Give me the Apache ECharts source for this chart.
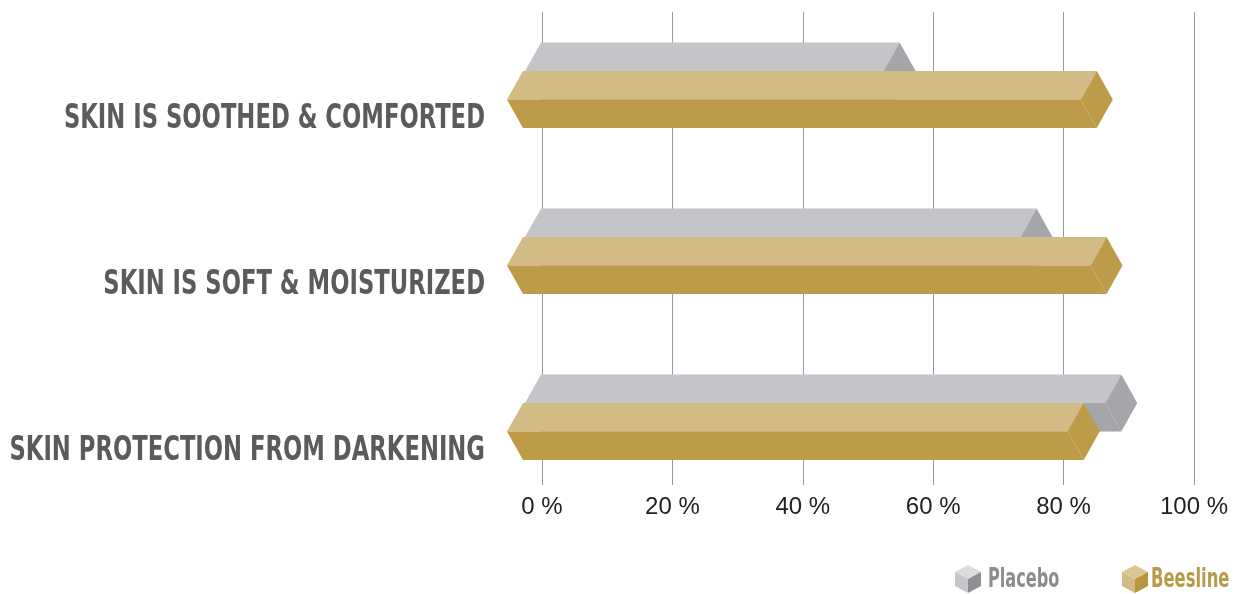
<!DOCTYPE html>
<html>
<head>
<meta charset="utf-8">
<script src="https://cdn.jsdelivr.net/npm/echarts@6/dist/echarts.min.js"></script>
<style>
  html, body { margin: 0; padding: 0; background: #fff; }
  #chart { width: 1236px; height: 594px; }
</style>
</head>
<body>
<div id="chart"></div>
<script>
// data
const categories = ['SKIN IS SOOTHED & COMFORTED', 'SKIN IS SOFT & MOISTURIZED', 'SKIN PROTECTION FROM DARKENING']
const placebo = [55, 76, 89]
const beesline = [88, 89.5, 86]
const seriesNames = ['Placebo', 'Beesline']
const xTicks = [0, 20, 40, 60, 80, 100]

// no narrow font installed, so condensed text is squeezed with scaleX
const condensed = "'Liberation Sans Narrow', 'DejaVu Sans Condensed', sans-serif"

// prism look for each series: face colours and depth offset (px)
const looks = [
  { top: '#c4c5c9', bottom: '#a5a6aa', cap: '#a5a6aa', dx: -1, dy: -46 },
  { top: '#d3bb85', bottom: '#be9b48', cap: '#be9b48', dx: -19, dy: -17.5 }
]
const HW = 16
const HH = 28.5

function renderPrism(params, api) {
  const look = looks[params.seriesIndex]
  const cat = api.value(1)
  const p0 = api.coord([0, cat])
  const p1 = api.coord([api.value(0), cat])
  const x0 = p0[0] + look.dx
  const x1 = p1[0] + look.dx
  const m = p0[1] + look.dy
  return {
    type: 'group',
    children: [
      {
        type: 'polygon',
        shape: { points: [[x0, m - HH], [x1, m - HH], [x1 - HW, m], [x0 - HW, m]] },
        style: { fill: look.top }
      },
      {
        type: 'polygon',
        shape: { points: [[x0 - HW, m], [x1 - HW, m], [x1, m + HH], [x0, m + HH]] },
        style: { fill: look.bottom }
      },
      {
        type: 'polygon',
        shape: { points: [[x1, m - HH], [x1 + HW, m], [x1, m + HH], [x1 - HW, m]] },
        style: { fill: look.cap }
      }
    ]
  }
}

function cube(cx, cy, colors) {
  const w = 13
  const h = 14
  return [
    { type: 'polygon', shape: { points: [[cx, cy - h], [cx + w, cy - h / 2], [cx, cy], [cx - w, cy - h / 2]] }, style: { fill: colors[0] } },
    { type: 'polygon', shape: { points: [[cx - w, cy - h / 2], [cx, cy], [cx, cy + h], [cx - w, cy + h / 2]] }, style: { fill: colors[1] } },
    { type: 'polygon', shape: { points: [[cx, cy], [cx + w, cy - h / 2], [cx + w, cy + h / 2], [cx, cy + h]] }, style: { fill: colors[2] } }
  ]
}

const chart = echarts.init(document.getElementById('chart'))

const option = {
  animation: false,
  grid: [
    { left: 542, right: 42, top: 12, bottom: 109, outerBoundsMode: 'none' },
    { left: 542, right: 42, top: 34, height: 498, outerBoundsMode: 'none' }
  ],
  xAxis: [
    {
      gridIndex: 0,
      type: 'value',
      min: xTicks[0],
      max: xTicks[xTicks.length - 1],
      interval: 20,
      axisLine: { show: false },
      axisTick: { show: false },
      splitLine: { lineStyle: { color: '#9a9a9a', width: 1 } },
      axisLabel: {
        formatter: '{value} %',
        color: '#222',
        fontSize: 24,
        fontFamily: "'Liberation Sans', Arial, sans-serif",
        margin: 10
      }
    },
    { gridIndex: 1, type: 'value', min: 0, max: 100, show: false }
  ],
  yAxis: [
    { gridIndex: 0, type: 'value', show: false },
    {
      gridIndex: 1,
      type: 'category',
      inverse: true,
      data: categories,
      axisLine: { show: false },
      axisTick: { show: false },
      axisLabel: { show: false }
    }
  ],
  series: [
    {
      name: seriesNames[0],
      type: 'custom',
      xAxisIndex: 1,
      yAxisIndex: 1,
      renderItem: renderPrism,
      encode: { x: 0, y: 1 },
      data: placebo.map((v, i) => [v, i])
    },
    {
      name: seriesNames[1],
      type: 'custom',
      xAxisIndex: 1,
      yAxisIndex: 1,
      renderItem: renderPrism,
      encode: { x: 0, y: 1 },
      data: beesline.map((v, i) => [v, i])
    }
  ]
}

chart.setOption(option)

// category labels, placed through the category axis
const labels = categories.map((name, i) => {
  const p = chart.convertToPixel({ gridIndex: 1 }, [0, i])
  return {
    type: 'text',
    x: p[0] - 57,
    y: p[1] + 2,
    scaleX: 0.765,
    style: {
      text: name,
      fill: '#5b5b5d',
      font: 'bold 33px ' + condensed,
      align: 'right',
      verticalAlign: 'middle'
    }
  }
})

chart.setOption({
  graphic: [
    ...labels,
    ...cube(968, 579, ['#dcdcde', '#c6c7c9', '#8e8f93']),
    { type: 'text', x: 988, y: 580, scaleX: 0.69, style: { text: seriesNames[0], fill: '#8b8c90', font: 'bold 26px ' + condensed, verticalAlign: 'middle' } },
    ...cube(1135, 579, ['#dcc794', '#d3bb85', '#b8953f']),
    { type: 'text', x: 1151, y: 580, scaleX: 0.7, style: { text: seriesNames[1], fill: '#b99a48', font: 'bold 26px ' + condensed, verticalAlign: 'middle' } }
  ]
})
</script>
</body>
</html>
